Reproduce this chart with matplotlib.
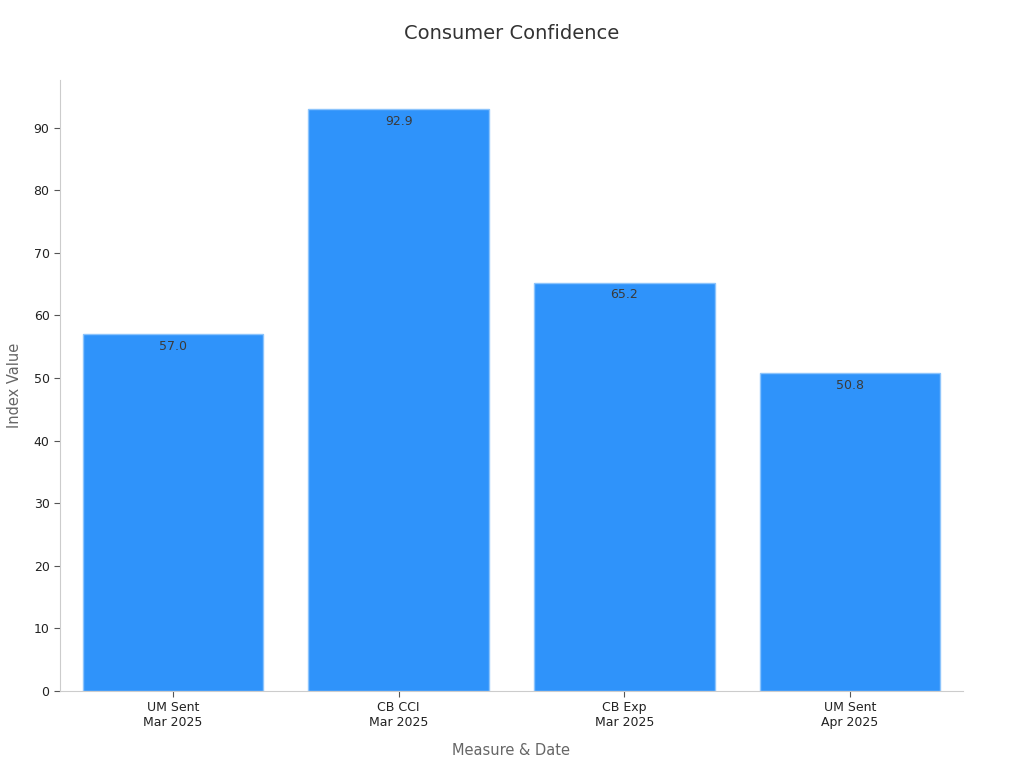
import matplotlib
matplotlib.use("Agg")
import matplotlib.pyplot as plt

# data
categories = ["UM Sent\nMar 2025", "CB CCI\nMar 2025", "CB Exp\nMar 2025", "UM Sent\nApr 2025"]
values = [57.0, 92.9, 65.2, 50.8]

BAR_COL = "#2f93fa"
EDGE_COL = "#8cc4fc"

fig = plt.figure(figsize=(10.24, 7.68), dpi=100)
ax = fig.add_axes([0.0586, 0.1003, 0.8818, 0.7955])

x = list(range(len(categories)))
bars = ax.bar(x, values, width=0.8, color=BAR_COL, edgecolor=EDGE_COL, linewidth=1)

for b, v in zip(bars, values):
    ax.annotate(f"{v:.1f}", (b.get_x() + b.get_width() / 2, v),
                xytext=(0, -4), textcoords="offset points",
                ha="center", va="top", fontsize=9, color="#3a3a3a")

ax.set_xlim(-0.5, len(categories) - 0.5)
ax.set_ylim(0, 97.6)
ax.set_yticks(range(0, 100, 10))
ax.set_xticks(x)
ax.set_xticklabels(categories)

for side in ("top", "right"):
    ax.spines[side].set_visible(False)
for side in ("left", "bottom"):
    ax.spines[side].set_color("#cccccc")
ax.tick_params(axis="both", colors="#555555", labelcolor="#222222", labelsize=9, length=4)

ax.set_xlabel("Measure & Date", fontsize=10.5, color="#666666", labelpad=10)
ax.set_ylabel("Index Value", fontsize=10.5, color="#666666", labelpad=8)
fig.suptitle("Consumer Confidence", fontsize=14, color="#333333", y=0.969)

fig.savefig("out.png", dpi=100)
